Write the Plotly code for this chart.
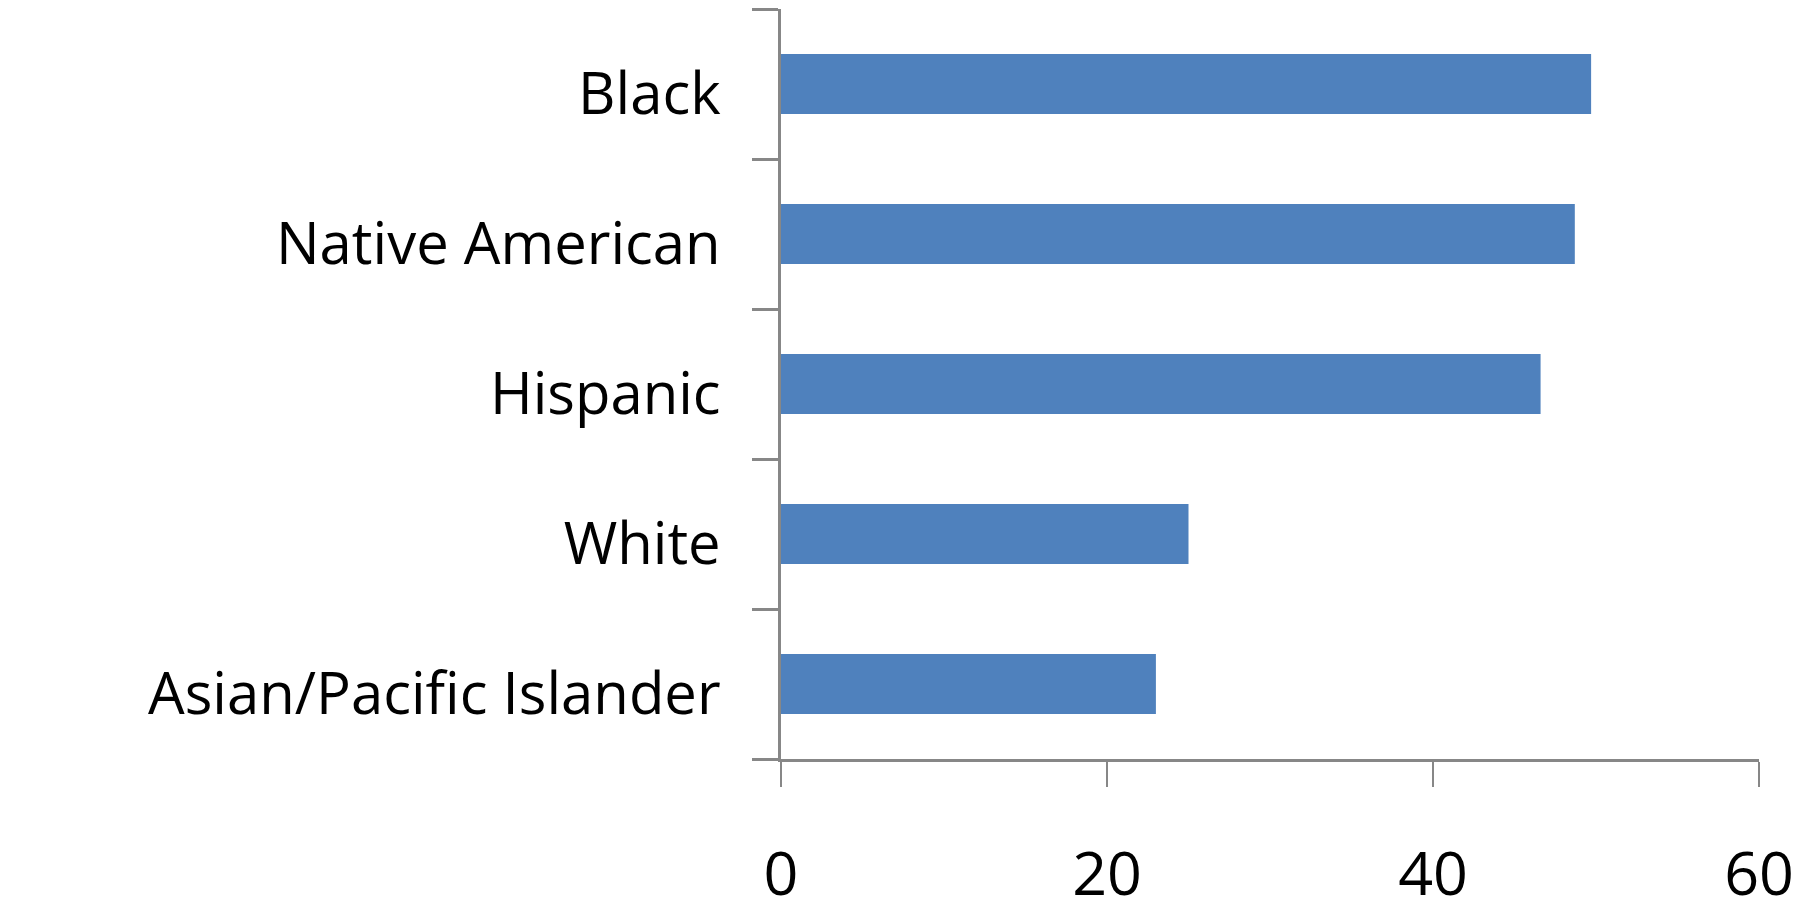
import plotly.graph_objects as go

categories = ["Black", "Native American", "Hispanic", "White", "Asian/Pacific Islander"]
values = [49.7, 48.7, 46.6, 25.0, 23.0]
x_ticks = [0, 20, 40, 60]

FONT = "Open Sans"
GRAY = "#878787"

fig = go.Figure(go.Bar(
    y=categories, x=values, orientation="h",
    marker=dict(color="#4F81BD", line=dict(width=0)),
    width=0.4,
))

fig.update_layout(
    width=1817, height=906,
    margin=dict(l=781, r=58, t=9, b=147, autoexpand=False),
    paper_bgcolor="white", plot_bgcolor="white",
    showlegend=False,
    font=dict(family=FONT, color="black"),
)
fig.update_xaxes(
    range=[0, 60], tickvals=x_ticks, ticktext=[str(v) for v in x_ticks],
    showgrid=False, zeroline=False, automargin=False,
    showline=True, linecolor=GRAY, linewidth=2.5,
    ticks="outside", ticklen=25, tickwidth=2, tickcolor=GRAY,
    tickfont=dict(size=61, family=FONT, color="black"),
    ticklabelstandoff=35,
)
fig.update_yaxes(
    categoryorder="array", categoryarray=categories[::-1],
    showgrid=False, zeroline=False, automargin=False,
    showline=True, linecolor=GRAY, linewidth=2.5,
    ticks="outside", ticklen=26, tickwidth=2.5, tickcolor=GRAY,
    tickson="boundaries",
    tickfont=dict(size=58, family=FONT, color="black"),
    ticklabelstandoff=46,
    ticklabelshift=10,
)

fig.write_html("out.html")
